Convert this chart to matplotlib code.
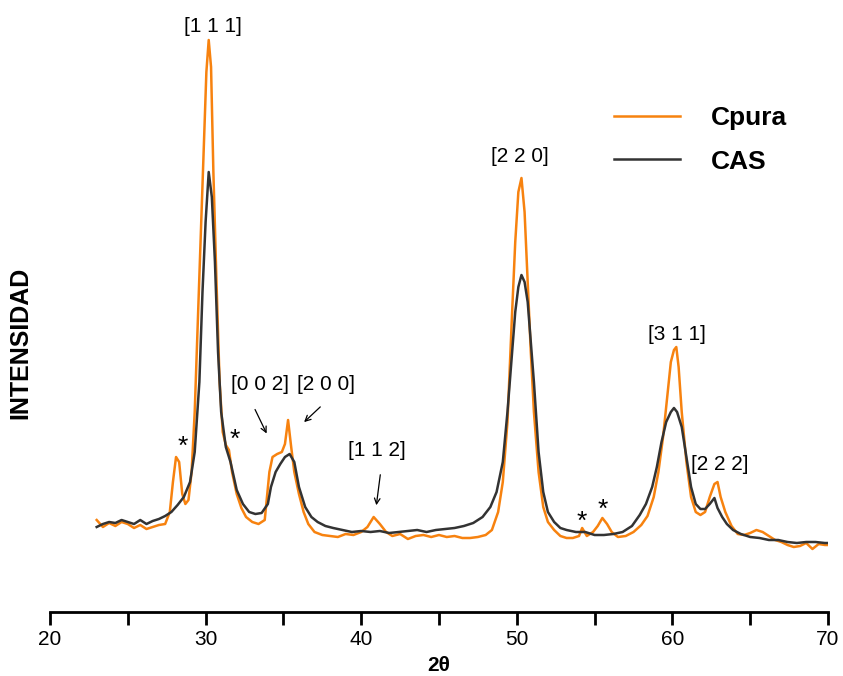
"""
XRD patterns: Cpura vs CAS, with Miller index labels.
"""

import matplotlib
matplotlib.use("Agg")
import matplotlib.pyplot as plt
from matplotlib.ticker import MultipleLocator

plt.rcParams["font.family"] = ["Liberation Sans", "DejaVu Sans"]

# 2theta (deg) and intensity (arb. units)
cpura_2t = [23.0, 23.4, 23.8, 24.2, 24.6, 25.0, 25.4, 25.8, 26.2, 26.6, 27.0, 27.4,
            27.7, 27.9, 28.1, 28.3, 28.5, 28.7, 28.9, 29.1, 29.3, 29.5, 29.7, 29.9,
            30.05, 30.2, 30.35, 30.5, 30.7, 30.9, 31.1, 31.3, 31.5, 31.7, 32.0, 32.3,
            32.6, 33.0, 33.4, 33.8, 34.1, 34.3, 34.6, 34.9, 35.1, 35.3, 35.5, 35.7,
            36.0, 36.3, 36.6, 37.0, 37.5, 38.0, 38.5, 39.0, 39.5, 40.0, 40.4, 40.8,
            41.2, 41.6, 42.0, 42.5, 43.0, 43.5, 44.0, 44.5, 45.0, 45.5, 46.0, 46.5,
            47.0, 47.5, 48.0, 48.4, 48.8, 49.1, 49.4, 49.7, 49.9, 50.1, 50.3, 50.5,
            50.7, 50.9, 51.1, 51.4, 51.7, 52.0, 52.4, 52.8, 53.2, 53.6, 54.0, 54.2,
            54.5, 54.9, 55.2, 55.5, 55.8, 56.1, 56.5, 57.0, 57.5, 58.0, 58.4, 58.8,
            59.1, 59.4, 59.7, 59.9, 60.1, 60.25, 60.4, 60.6, 60.9, 61.2, 61.5, 61.8,
            62.1, 62.4, 62.7, 62.9, 63.1, 63.4, 63.8, 64.2, 64.6, 65.0, 65.4, 65.8,
            66.2, 66.6, 67.0, 67.4, 67.8, 68.2, 68.6, 69.0, 69.4, 69.8, 70.0]
cpura_int = [92, 85, 89, 86, 90, 88, 84, 87, 83, 85, 87, 88,
             100, 130, 155, 150, 118, 108, 112, 140, 200, 290, 380, 470,
             540, 572, 545, 440, 330, 230, 180, 167, 162, 140, 118, 104,
             95, 90, 88, 92, 140, 155, 158, 160, 168, 192, 165, 140,
             118, 100, 88, 80, 77, 76, 75, 78, 77, 80, 85, 95,
             88, 80, 76, 78, 73, 76, 77, 75, 77, 75, 76, 74,
             74, 75, 77, 82, 100, 130, 190, 300, 370, 420, 434, 400,
             330, 260, 200, 140, 105, 90, 82, 76, 74, 74, 76, 84,
             76, 80, 86, 94, 88, 80, 75, 76, 80, 87, 96, 115,
             140, 175, 220, 250, 262, 265, 245, 200, 150, 115, 100, 97,
             100, 115, 128, 130, 115, 100, 86, 78, 77, 79, 82, 80,
             76, 72, 70, 67, 65, 66, 69, 63, 68, 67, 67]

cas_2t = [23.0, 23.4, 23.8, 24.2, 24.6, 25.0, 25.4, 25.8, 26.2, 26.6, 27.0, 27.4,
          27.8, 28.2, 28.6, 29.0, 29.3, 29.6, 29.8, 30.0, 30.2, 30.4, 30.6, 30.8,
          31.0, 31.3, 31.6, 32.0, 32.4, 32.8, 33.2, 33.6, 34.0, 34.2, 34.5, 34.8,
          35.1, 35.4, 35.7, 36.0, 36.4, 36.8, 37.2, 37.7, 38.2, 38.8, 39.4, 40.0,
          40.6, 41.2, 41.8, 42.4, 43.0, 43.6, 44.2, 44.8, 45.4, 46.0, 46.6, 47.2,
          47.8, 48.3, 48.7, 49.1, 49.4, 49.7, 49.9, 50.1, 50.3, 50.5, 50.7, 50.9,
          51.1, 51.4, 51.7, 52.0, 52.4, 52.8, 53.2, 53.8, 54.4, 55.0, 55.6, 56.2,
          56.8, 57.4, 57.9, 58.3, 58.7, 59.0, 59.3, 59.6, 59.9, 60.1, 60.3, 60.6,
          60.9, 61.2, 61.5, 61.8, 62.1, 62.4, 62.7, 62.9, 63.2, 63.5, 63.9, 64.4,
          65.0, 65.6, 66.2, 66.8, 67.4, 68.0, 68.6, 69.2, 69.8, 70.0]
cas_int = [85, 88, 90, 89, 92, 90, 88, 92, 88, 91, 93, 96,
           100, 107, 115, 130, 160, 230, 320, 390, 440, 415, 350, 260,
           200, 165, 150, 122, 108, 100, 98, 99, 108, 125, 140, 148,
           155, 158, 150, 125, 105, 95, 90, 86, 84, 82, 80, 81,
           80, 81, 79, 80, 81, 82, 80, 82, 83, 84, 86, 89,
           95, 105, 120, 150, 200, 260, 300, 325, 337, 330, 310, 270,
           230, 160, 120, 100, 90, 84, 82, 80, 80, 77, 77, 78,
           80, 86, 97, 108, 125, 145, 170, 190, 200, 204, 200, 185,
           155, 125, 108, 103, 103, 108, 114, 104, 95, 88, 82, 78,
           75, 74, 72, 72, 70, 69, 70, 70, 69, 69]

# (label, x, y) of the Miller index tags
hkl_labels = [("[1 1 1]", 30.5, 585), ("[2 2 0]", 50.2, 455),
              ("[0 0 2]", 33.5, 227), ("[2 0 0]", 37.75, 227),
              ("[1 1 2]", 41.0, 162), ("[3 1 1]", 60.3, 278),
              ("[2 2 2]", 63.05, 148)]
stars = [(28.55, 165), (31.85, 172), (54.2, 90), (55.5, 102)]


fig = plt.figure(figsize=(8.43, 6.76), dpi=100)
ax = fig.add_axes([50 / 843, 64 / 676, 778 / 843, 602 / 676])

ax.plot(cpura_2t, cpura_int, color="#F7820F", lw=1.8, label="Cpura")
ax.plot(cas_2t, cas_int, color="#333333", lw=1.8, label="CAS")

ax.set_xlim(20, 70)
ax.set_ylim(0, 602)
for side in ("top", "right", "left"):
    ax.spines[side].set_visible(False)
ax.spines["bottom"].set_linewidth(2)
ax.set_yticks([])
ax.xaxis.set_major_locator(MultipleLocator(10))
ax.xaxis.set_minor_locator(MultipleLocator(5))
ax.tick_params(axis="x", which="both", direction="out", length=9, width=2, labelsize=15, pad=4)
ax.set_xlabel("2θ", fontsize=15, fontweight="bold", labelpad=5)
ax.set_ylabel("INTENSIDAD", fontsize=18, fontweight="bold")
ax.yaxis.set_label_coords(-0.023, 0.447)

for txt, x, y in hkl_labels:
    ax.text(x, y, txt, ha="center", va="center", fontsize=15)
for x, y in stars:
    ax.text(x, y, "*", ha="center", va="center", fontsize=19)

arrow = dict(arrowstyle="->", color="black", lw=0.9)
ax.annotate("", xy=(34.0, 176), xytext=(33.1, 205), arrowprops=arrow)
ax.annotate("", xy=(36.2, 188), xytext=(37.5, 207), arrowprops=arrow)
ax.annotate("", xy=(40.95, 104), xytext=(41.25, 140), arrowprops=arrow)

ax.legend(loc="upper left", bbox_to_anchor=(0.695, 0.88), frameon=False,
          handlelength=2.5, handletextpad=1.15, labelspacing=0.74,
          prop={"size": 19, "weight": "bold"})

fig.savefig("out.png", dpi=100)
